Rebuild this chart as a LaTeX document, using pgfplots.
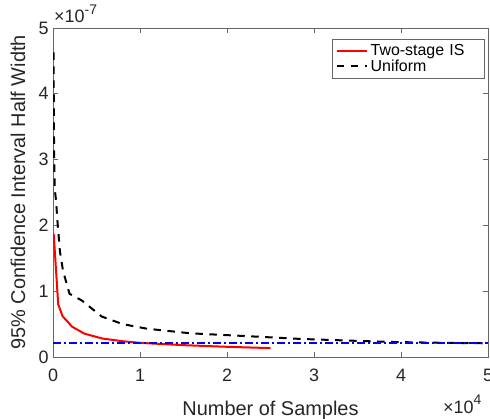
\documentclass[border=0pt]{standalone}
\usepackage{pgfplots}
\pgfplotsset{compat=1.18}
\usepackage{fontspec}
\setmainfont{Liberation Sans}
\definecolor{axgray}{gray}{0.15}
\newcommand{\sci}[1]{×10\raisebox{0.5em}{\fontsize{14}{14}\selectfont #1}}
\begin{document}
\begin{tikzpicture}
\begin{axis}[
  name=ax,
  at={(53bp,62bp)}, anchor=south west,
  scale only axis, width=435bp, height=329bp,
  xmin=0, xmax=50000, ymin=0, ymax=5e-7,
  xtick={0,10000,20000,30000,40000,50000},
  ytick={0,1e-7,2e-7,3e-7,4e-7,5e-7},
  scaled x ticks=base 10:-4,
  scaled y ticks=base 10:7,
  /pgf/number format/assume math mode=true,
  /pgf/number format/fixed,
  tick align=inside, major tick length=5bp,
  axis line style={black!60, line width=0.7bp},
  every tick/.style={black!60, line width=0.7bp},
  tick label style={font=\fontsize{18}{20}\selectfont, text=axgray},
  xticklabel style={anchor=base, yshift=-24.5bp},
  yticklabel style={anchor=east, xshift=-1bp},
  xtick scale label code/.code={},
  ytick scale label code/.code={\sci{#1}},
  every y tick scale label/.style={at={(rel axis cs:0,1)}, anchor=base west, xshift=2bp, yshift=5bp, font=\fontsize{18}{20}\selectfont, text=axgray, inner sep=0pt},
  xlabel={Number of Samples},
  ylabel={95\% Confidence Interval Half Width},
  every axis x label/.style={at={(rel axis cs:0.5,0)}, anchor=base, yshift=-58bp, font=\fontsize{20}{22}\selectfont, text=axgray},
  every axis y label/.style={at={(rel axis cs:0,0.5)}, anchor=center, xshift=-35bp, rotate=90, font=\fontsize{20}{22}\selectfont, text=axgray},
  legend style={at={(rel axis cs:1,1)}, anchor=north east, xshift=-3bp, yshift=-11bp,
    font=\fontsize{16}{19}\selectfont, draw=black!60, line width=0.7bp, text=black,
    inner xsep=3bp, inner ysep=3bp, row sep=-1bp,
    nodes={text width=108bp, align=left, inner xsep=3bp}},
  legend cell align=left,
  legend image code/.code={\draw[#1, line width=2bp] (0bp,0bp) -- (30bp,0bp);},
]
\addplot[red, line width=2bp, solid] coordinates {
 (80,1.87e-7) (600,0.80e-7) (1100,0.62e-7) (2200,0.46e-7) (3600,0.355e-7)
 (5700,0.28e-7) (8000,0.24e-7) (10000,0.215e-7) (15000,0.18e-7) (20000,0.155e-7) (25000,0.135e-7)
};
\addlegendentry{Two-stage IS}
\addplot[black, line width=2bp, dash pattern=on 7.5bp off 6.5bp] coordinates {
 (60,4.63e-7) (120,3.2e-7) (200,2.55e-7) (350,2.38e-7) (500,2.08e-7) (800,1.6e-7)
 (1150,1.31e-7) (1900,0.96e-7) (3300,0.86e-7) (5600,0.615e-7) (8000,0.5e-7)
 (10800,0.43e-7) (15800,0.36e-7) (22600,0.315e-7) (28400,0.275e-7) (35000,0.245e-7)
 (39100,0.228e-7) (45000,0.215e-7) (50000,0.208e-7)
};
\addlegendentry{Uniform}
\addplot[blue, line width=2bp, dash pattern=on 8bp off 3bp on 2bp off 3bp, forget plot] coordinates {
 (0,0.21e-7) (50000,0.21e-7)
};
\end{axis}
\node[anchor=base west, inner sep=0pt, font=\fontsize{18}{20}\selectfont, text=axgray] at ([xshift=-45bp, yshift=-56bp]ax.south east) {\sci{4}};
\pgfresetboundingbox
\path[use as bounding box] (0,0) rectangle (490bp,419bp);
\end{tikzpicture}
\end{document}
